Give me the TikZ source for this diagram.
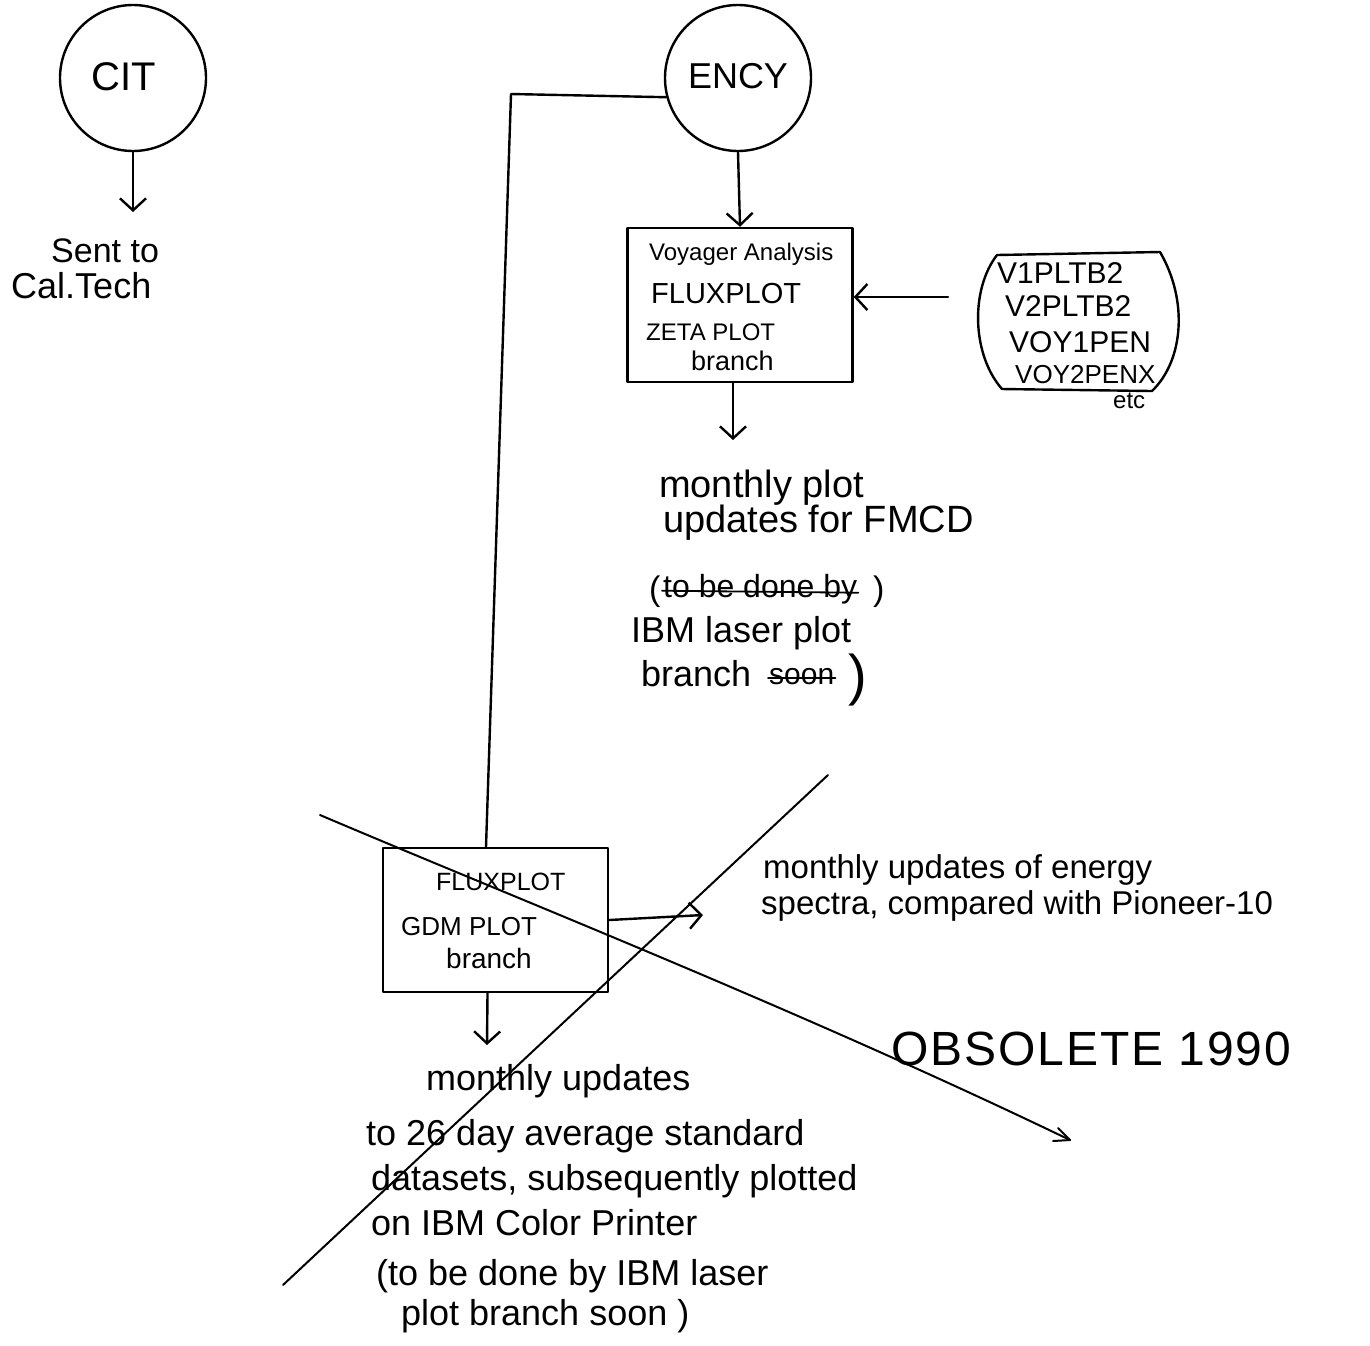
\documentclass[tikz,border=0pt]{standalone}
\usepackage{fontspec}
\setmainfont{Liberation Sans}
\usetikzlibrary{arrows.meta}
\begin{document}
\begin{tikzpicture}[x=1pt,y=-1pt,line width=2.4pt,line cap=round,line join=round,
  arr/.style={-{Straight Barb[length=12pt,width=26pt,line width=2.4pt]}},
  txt/.style={inner sep=0pt,anchor=base west,font=\fontsize{#1}{#1}\selectfont},
  txt/.default=36,
  ctxt/.style={inner sep=0pt,anchor=base,font=\fontsize{#1}{#1}\selectfont},
  proc/.style={draw,minimum width=225pt,minimum height=#1,inner sep=0pt},
  bubble/.style={draw,circle,minimum size=146pt,inner sep=0pt},
  cancel/.style={line width=1.8pt}]
\useasboundingbox (0,0) rectangle (1370,1345);

% --- source circles ---
\node[bubble] (cit) at (133,78) {};
\node[ctxt=40] (citl) at (124,90) {CIT};
\node[bubble] (ency) at (738,78) {};
\node[ctxt=36] (encyl) at (738,88) {ENCY};

% --- CIT output ---
\coordinate (citend) at (133,212);
\draw[arr] (cit.south) -- (citend);
\node[txt=34] (sent) at (50,262) {Sent to};
\node[txt=36] (caltech) at (10,298) {Cal.Tech};

% --- Voyager analysis box ---
\node[proc=154pt] (vbox) at (740,305) {};
\node[txt=24] (vl1) at (648,260) {Voyager Analysis};
\node[txt=29] (vl2) at (650,303) {FLUXPLOT};
\node[txt=24] (vl3) at (645,340) {ZETA PLOT};
\node[txt=27] (vl4) at (690,370) {branch};
\draw[arr] (ency.south) -- (vbox.north);

% --- datasets feeding the box ---
\draw (997,255) -- (1160,252)
      .. controls (1188,300) and (1184,360) .. (1152,391)
      -- (1002,389)
      .. controls (972,355) and (970,290) .. (997,255);
\node[txt=30] (ds1) at (996,283) {V1PLTB2};
\node[txt=30] (ds2) at (1004,316) {V2PLTB2};
\node[txt=30] (ds3) at (1008,352) {VOY1PEN};
\node[txt=26] (ds4) at (1014,383) {VOY2PENX};
\node[txt=24] (etc) at (1112,408) {etc};
\coordinate (dsin) at (948,297);
\draw[arr] (dsin) -- (vbox.east |- dsin);

% --- FMCD output ---
\coordinate (fmcd) at (733,440);
\draw[arr] ([xshift=-7pt]vbox.south) -- (fmcd);
\node[txt=38] (m1) at (658,497) {monthly plot};
\node[txt=38] (m2) at (662,532) {updates for FMCD};
\node[txt=34] (m3p) at (648,600) {(};
\node[txt=32] (m3) at (662,597) {to be done by};
\draw[cancel] ([yshift=-2pt]m3.west) -- ([yshift=-4pt]m3.east);
\node[txt=34] (m3q) at (872,600) {)};
\node[txt=36] (m4) at (630,642) {IBM laser plot};
\node[txt=36] (m5) at (640,686) {branch};
\node[txt=30] (m5s) at (768,684) {soon};
\draw[cancel] ([yshift=-2pt]m5s.west) -- ([yshift=-2pt]m5s.east);
\node[inner sep=0pt,font=\fontsize{56}{56}\selectfont] (m5q) at (858,680) {)};

% --- GDM plot box ---
\node[proc=144pt] (fbox) at (495.5,920) {};
\node[txt=25] (fl1) at (435,890) {FLUXPLOT};
\node[txt=26] (fl2) at (400,935) {GDM PLOT};
\node[txt=28] (fl3) at (445,968) {branch};
\draw (ency.195) -- (511,94) -- ([xshift=-9.5pt]fbox.north);

% --- energy spectra output ---
\coordinate (spec) at (703,915);
\draw[arr] (fbox.east) -- (spec);
\node[txt=33] (e1) at (762,878) {monthly updates of energy};
\node[txt=33] (e2) at (760,914) {spectra, compared with Pioneer-10};

% --- 26 day averages output ---
\coordinate (avg) at (487,1045);
\draw[arr] ([xshift=-8pt]fbox.south) -- (avg);
\node[txt] (a1) at (425,1090) {monthly updates};
\node[txt] (a2) at (365,1145) {to 26 day average standard};
\node[txt] (a3) at (370,1190) {datasets, subsequently plotted};
\node[txt] (a4) at (370,1235) {on IBM Color Printer};
\node[txt] (a5) at (375,1285) {(to be done by IBM laser};
\node[txt] (a6) at (400,1325) {plot branch soon )};

% --- crossed out ---
\draw[line width=2pt] (320,815) .. controls (520,900) and (800,1010) .. (1070,1140);
\draw[line width=2pt] (1058,1128) -- (1070,1140) -- (1053,1141);
\draw[line width=2pt] (283,1285) -- (828,775);
\node[txt=48,font=\fontsize{48}{48}\selectfont\addfontfeature{LetterSpace=4}] (obs) at (890,1065) {OBSOLETE 1990};
\end{tikzpicture}
\end{document}
